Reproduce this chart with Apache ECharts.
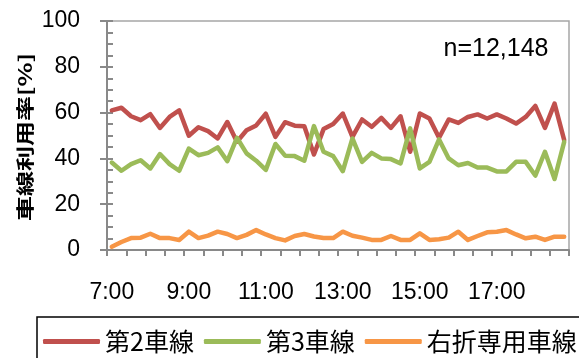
<!DOCTYPE html>
<html>
<head>
<meta charset="utf-8">
<script src="https://cdn.jsdelivr.net/npm/echarts@6/dist/echarts.min.js"></script>
<style>
  html, body { margin: 0; padding: 0; background: #fff; }
  #chart { width: 579px; height: 358px; }
</style>
</head>
<body>
<div id="chart"></div>
<script>
// 15-minute intervals, 7:00 - 18:45
const times = [
  '7:00','7:15','7:30','7:45','8:00','8:15','8:30','8:45',
  '9:00','9:15','9:30','9:45','10:00','10:15','10:30','10:45',
  '11:00','11:15','11:30','11:45','12:00','12:15','12:30','12:45',
  '13:00','13:15','13:30','13:45','14:00','14:15','14:30','14:45',
  '15:00','15:15','15:30','15:45','16:00','16:15','16:30','16:45',
  '17:00','17:15','17:30','17:45','18:00','18:15','18:30','18:45'
];

const seriesNames = ['第2車線', '第3車線', '右折専用車線'];

// lane usage share [%]
const lane2 = [
  61.0, 62.1, 58.4, 56.7, 59.3, 53.3, 58.1, 61.0, 49.9, 53.6, 51.9, 48.7,
  55.9, 47.3, 52.3, 54.4, 59.5, 49.4, 55.8, 54.3, 54.0, 41.7, 52.8, 55.0,
  59.6, 49.4, 57.0, 53.8, 57.7, 53.3, 58.4, 42.9, 59.6, 57.4, 49.0, 57.0,
  55.5, 58.1, 59.2, 57.4, 59.2, 57.4, 55.2, 58.1, 62.9, 53.3, 63.9, 48.0
];
const lane3 = [
  38.2, 34.6, 37.5, 39.2, 35.6, 41.9, 37.5, 34.6, 44.3, 41.4, 42.4, 44.8,
  38.8, 49.0, 42.2, 39.0, 35.0, 46.3, 41.2, 41.0, 39.0, 54.1, 42.9, 41.0,
  34.4, 48.7, 38.5, 42.4, 40.0, 39.7, 37.8, 53.1, 35.6, 38.5, 48.3, 40.0,
  37.0, 38.0, 36.0, 36.0, 34.3, 34.3, 38.5, 38.5, 32.5, 42.9, 31.0, 47.2
];
const rightTurn = [
  1.4, 3.5, 5.2, 5.4, 7.1, 5.2, 5.2, 4.4, 8.0, 5.2, 6.3, 8.0,
  7.0, 5.2, 6.6, 8.7, 6.8, 5.2, 4.2, 6.1, 7.0, 5.9, 5.2, 5.2,
  8.0, 6.2, 5.4, 4.4, 4.4, 6.1, 4.4, 4.4, 7.3, 4.4, 4.7, 5.4,
  8.0, 4.4, 6.1, 7.7, 8.0, 8.7, 6.8, 5.1, 5.8, 4.4, 5.8, 5.8
];

const lineColors = ['#C0504D', '#9BBB59', '#F79646'];
const axisGray = '#898989';
const numFont = '"Liberation Sans", Arial, sans-serif';
const cjkFont = '"Noto Sans CJK JP", sans-serif';

const chart = echarts.init(document.getElementById('chart'), null, { renderer: 'canvas' });

chart.setOption({
  animation: false,
  backgroundColor: '#ffffff',
  grid: {
    left: 107, right: 10, top: 21, bottom: 108,
    show: true, borderColor: '#A6A6A6', borderWidth: 1.5, backgroundColor: 'transparent'
  },
  legend: {
    data: seriesNames,
    left: 37, top: 317,
    width: 540,
    padding: [12, 6, 12, 6],
    borderColor: '#000', borderWidth: 1.5,
    icon: 'roundRect',
    itemWidth: 57, itemHeight: 5, itemGap: 10,
    textStyle: { fontFamily: cjkFont, fontSize: 25, color: '#000' }
  },
  xAxis: {
    type: 'category',
    data: times,
    boundaryGap: true,
    axisLine: { lineStyle: { color: axisGray, width: 2 } },
    axisTick: { show: true, interval: 1, length: 6, lineStyle: { color: axisGray, width: 2 } },
    axisLabel: { interval: 7, margin: 31, fontSize: 23, fontFamily: numFont, color: '#000' },
    splitLine: { show: false }
  },
  yAxis: [
    {
      type: 'value', min: 0, max: 100, interval: 20,
      axisLine: { show: true, lineStyle: { color: axisGray, width: 2 } },
      axisTick: { show: true, length: 7, lineStyle: { color: axisGray, width: 2 } },
      axisLabel: { margin: 27, fontSize: 23, fontFamily: numFont, color: '#000' },
      splitLine: { show: false }
    },
    {
      type: 'value', min: 0, max: 100, interval: 5, position: 'left',
      axisLine: { show: false },
      axisTick: { show: true, inside: true, length: 6, lineStyle: { color: axisGray, width: 2 } },
      axisLabel: { show: false },
      splitLine: { show: false }
    }
  ],
  graphic: [
    {
      type: 'text', x: 25, y: 137, rotation: Math.PI / 2, scaleY: 0.72,
      style: {
        text: '車線利用率[%]', font: 'bold 25px ' + cjkFont, fill: '#000',
        align: 'center', verticalAlign: 'middle',
        textAlign: 'center', textVerticalAlign: 'middle'
      }
    },
    {
      type: 'text', x: 496, y: 49,
      style: {
        text: 'n=12,148', font: '25px ' + numFont, fill: '#000',
        align: 'center', verticalAlign: 'middle',
        textAlign: 'center', textVerticalAlign: 'middle'
      }
    }
  ],
  series: [lane2, lane3, rightTurn].map((values, i) => ({
    name: seriesNames[i],
    type: 'line',
    yAxisIndex: 0,
    data: values,
    symbol: 'none',
    lineStyle: { color: lineColors[i], width: 4.5, join: 'round', cap: 'round' },
    itemStyle: { color: lineColors[i] }
  }))
});
</script>
</body>
</html>
